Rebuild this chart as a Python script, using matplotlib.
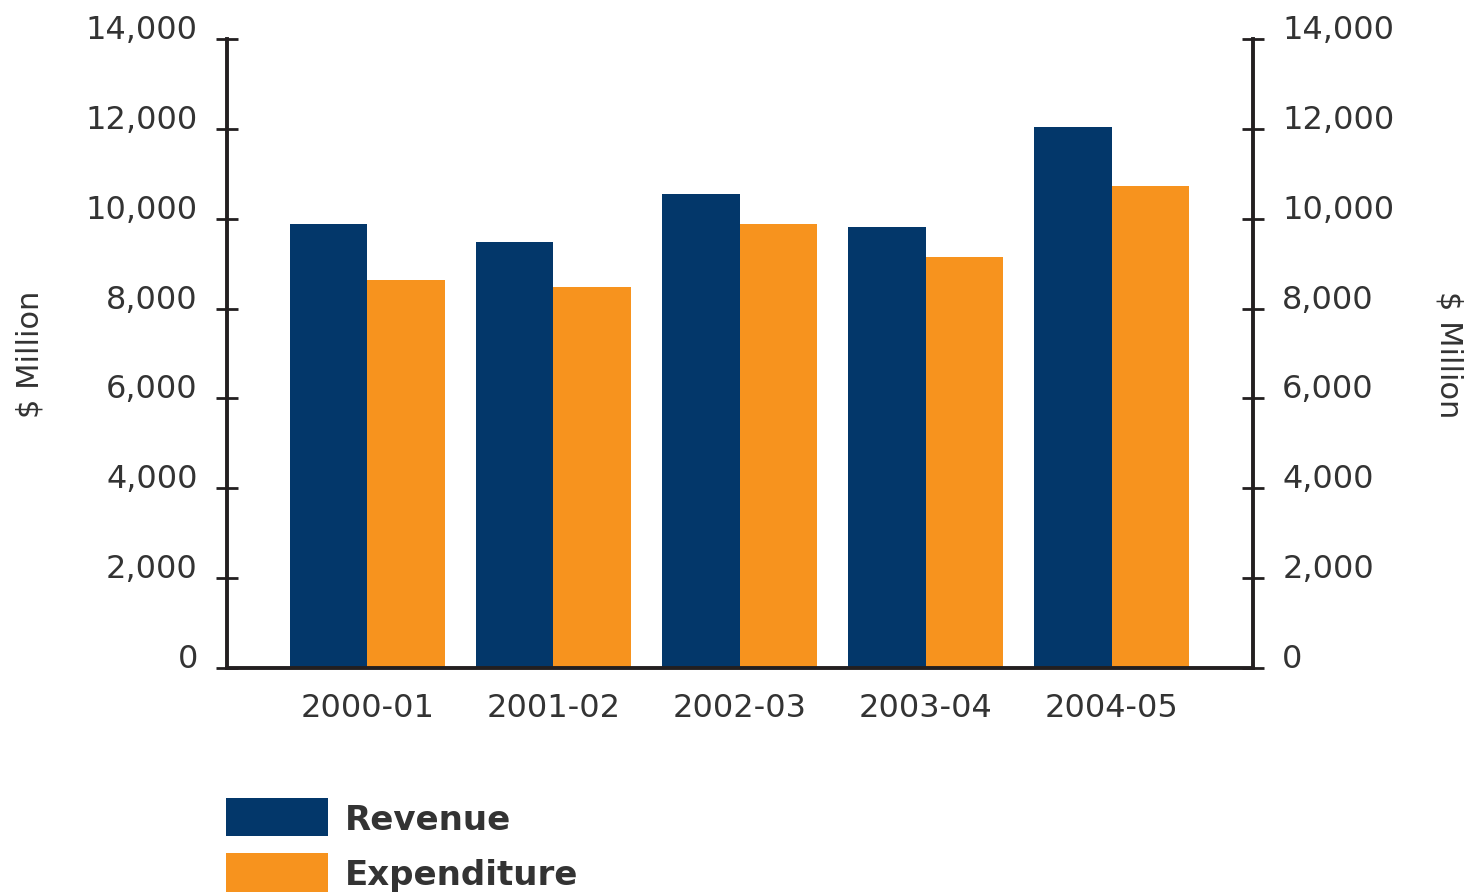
import matplotlib
matplotlib.use("Agg")
import matplotlib.pyplot as plt
import matplotlib.transforms as mtransforms
import numpy as np

categories = ["2000-01", "2001-02", "2002-03", "2003-04", "2004-05"]
revenue = [9880, 9480, 10550, 9815, 12040]
expenditure = [8640, 8480, 9880, 9150, 10730]
yticks = [0, 2000, 4000, 6000, 8000, 10000, 12000, 14000]
ytick_labels = ["0", "2,000", "4,000", "6,000", "8,000", "10,000", "12,000", "14,000"]

NAVY = "#03376A"
ORANGE = "#F7931E"
TEXT = "#333333"
AXC = "#231F20"

W, H, DPI = 1474, 895, 100
fig = plt.figure(figsize=(W / DPI, H / DPI), dpi=DPI)
fig.patch.set_facecolor("white")

ax = fig.add_axes([227 / W, 1 - 669 / H, (1253 - 227) / W, (669 - 40) / H])
x = np.arange(len(categories))
bw = 0.415
b1 = ax.bar(x - bw / 2, revenue, bw, color=NAVY, label="Revenue", zorder=2)
b2 = ax.bar(x + bw / 2, expenditure, bw, color=ORANGE, label="Expenditure", zorder=2)

ax.set_xlim(-0.755, 4.76)
ax.set_ylim(0, 14000)
ax.set_xticks(x)
ax.set_xticklabels(categories, fontsize=23, color=TEXT)
ax.tick_params(axis="x", length=0, pad=17)

ax2 = ax.twinx()
ax2.set_ylim(ax.get_ylim())

for a in (ax, ax2):
    a.set_yticks(yticks)
    a.set_yticklabels(ytick_labels, fontsize=23, color=TEXT)
    a.tick_params(axis="y", direction="inout", length=16, width=2, color=AXC, pad=13)
    for s in a.spines.values():
        s.set_visible(False)
    a.set_facecolor("none")

ax.spines["left"].set_visible(True)
ax.spines["bottom"].set_visible(True)
ax2.spines["right"].set_visible(True)
for s in (ax.spines["left"], ax.spines["bottom"], ax2.spines["right"]):
    s.set_color(AXC)
    s.set_linewidth(2.8)

ax.set_ylabel(r"\$ Million", fontsize=22, color=TEXT, va="center", ha="center")
ax.yaxis.set_label_coords(-0.192, 0.5)
ax2.set_ylabel(r"\$ Million", fontsize=22, color=TEXT, rotation=270, va="center", ha="center")
ax2.yaxis.set_label_coords(1.191, 0.5)

off = mtransforms.ScaledTranslation(0, 13 / DPI, fig.dpi_scale_trans)
for t in ax.yaxis.get_major_ticks():
    t.label1.set_transform(t.label1.get_transform() + off)
for t in ax2.yaxis.get_major_ticks():
    t.label2.set_transform(t.label2.get_transform() + off)

fig.legend(handles=[b1, b2], labels=["Revenue", "Expenditure"],
           loc="upper left", bbox_to_anchor=(226 / W, 1 - 799 / H),
           frameon=False, borderpad=0, borderaxespad=0,
           handlelength=3.0, handleheight=1.36, handletextpad=0.5,
           labelspacing=0.5, prop={"size": 24.5, "weight": "bold"},
           labelcolor=TEXT)

fig.savefig("out.png", dpi=DPI, facecolor="white")
